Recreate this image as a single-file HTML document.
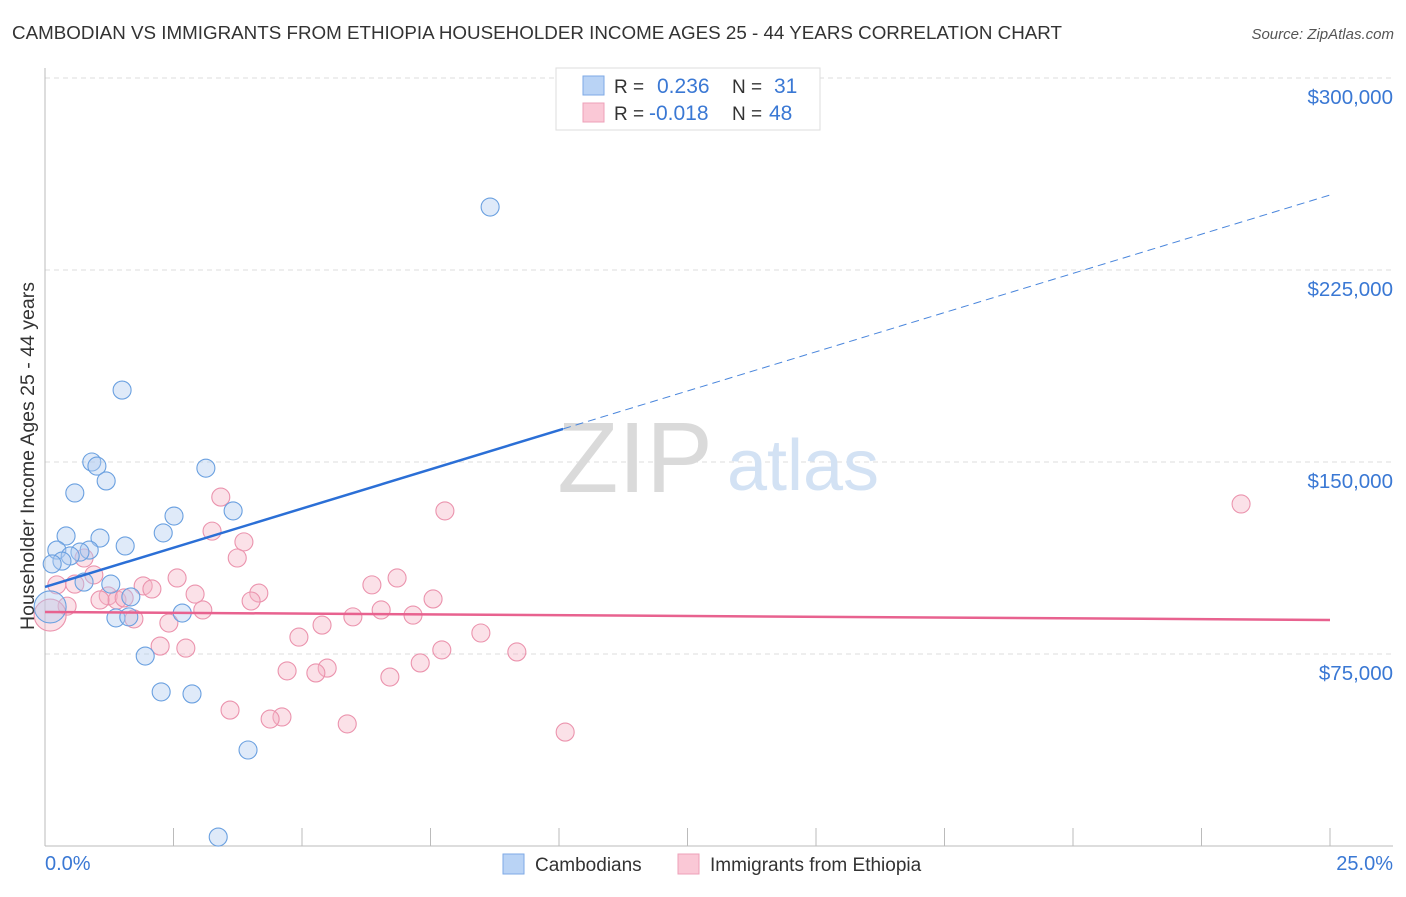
<!DOCTYPE html>
<html><head><meta charset="utf-8"><style>
body{margin:0;background:#fff;font-family:"Liberation Sans",sans-serif}
svg text{font-family:"Liberation Sans",sans-serif}
</style></head><body>
<svg id="chart" width="1406" height="892" viewBox="0 0 1406 892">
<text x="12" y="39" font-size="18.5" fill="#333" textLength="1050" lengthAdjust="spacingAndGlyphs">CAMBODIAN VS IMMIGRANTS FROM ETHIOPIA HOUSEHOLDER INCOME AGES 25 - 44 YEARS CORRELATION CHART</text>
<text x="1394" y="39" font-size="15" fill="#555" font-style="italic" text-anchor="end">Source: ZipAtlas.com</text>
<g id="grid"></g>
<g><text x="635" y="492" font-size="100" font-family="Liberation Serif" fill="#dadada" text-anchor="middle">ZIP</text><text x="803" y="490" font-size="72" fill="#d3e2f4" text-anchor="middle">atlas</text></g>
<g id="axes"></g>
<g id="marks"></g>
<g>
<rect x="556" y="68" width="264" height="62" fill="#fff" stroke="#ddd"/>
<rect x="583" y="76" width="21" height="19" fill="#b9d3f5" stroke="#7eaae6"/>
<rect x="583" y="103" width="21" height="19" fill="#fac8d6" stroke="#eea0b8"/>
<text x="614" y="93" font-size="19" fill="#333">R = </text><text x="657" y="93" font-size="21" fill="#3a78d4">0.236</text>
<text x="732" y="93" font-size="19" fill="#333">N = </text><text x="774" y="93" font-size="21" fill="#3a78d4">31</text>
<text x="614" y="120" font-size="19" fill="#333">R = </text><text x="649" y="120" font-size="21" fill="#3a78d4">-0.018</text>
<text x="732" y="120" font-size="19" fill="#333">N = </text><text x="769" y="120" font-size="21" fill="#3a78d4">48</text>
</g>
<g>
<rect x="503" y="854" width="21" height="20" fill="#b9d3f5" stroke="#7eaae6"/>
<text x="535" y="871" font-size="19" fill="#333">Cambodians</text>
<rect x="678" y="854" width="21" height="20" fill="#fac8d6" stroke="#eea0b8"/>
<text x="710" y="871" font-size="19" fill="#333">Immigrants from Ethiopia</text>
</g>
<text transform="translate(34,456) rotate(-90)" font-size="19.5" fill="#333" text-anchor="middle">Householder Income Ages 25 - 44 years</text>
</svg>
<script>
const yTicks=[75000,150000,225000,300000];
const yTickLabels=["$75,000","$150,000","$225,000","$300,000"];
const xTickLabels=["0.0%","25.0%"];
const blueX=[8.66,1.50,0.91,1.01,1.19,0.58,3.13,3.66,2.51,2.30,0.41,1.07,1.56,0.23,0.86,0.68,0.49,0.33,0.14,1.28,0.76,1.67,1.38,1.63,2.67,0.10,1.95,2.26,2.86,3.95,3.37];
const blueY=[249600,178100,150000,148400,142600,137900,147600,130900,128900,122300,121100,120300,117200,115600,115600,114800,113300,111300,110200,102300,103100,97300,89100,89500,91000,93400,74200,60200,59400,37500,3500];
const pinkX=[23.27,7.78,3.42,3.25,3.87,3.74,0.76,0.95,2.57,6.85,6.36,0.23,1.91,2.08,0.58,2.92,4.16,1.23,1.40,1.54,1.07,4.01,7.55,0.43,3.07,6.54,7.16,5.99,1.73,2.41,5.39,8.48,4.94,0.10,2.24,2.74,7.72,9.18,7.30,5.49,4.71,5.27,6.71,3.60,4.61,4.38,5.88,10.12];
const pinkY=[133600,130900,136300,123000,118800,112500,112500,105900,104700,104700,102000,102000,101600,100400,102300,98400,98800,97700,96100,96900,96100,95700,96500,93700,92200,92200,90200,89500,88700,87100,86300,83200,81600,90200,78100,77300,76600,75800,71500,69500,68400,67600,66000,53100,50400,49600,47700,44500];
const blueTrend=[101200,254300];
const pinkTrend=[91400,88300];
const blueSolidEnd=10.08;

const NS="http://www.w3.org/2000/svg";
const X=v=>45+v/25*1285;
const Y=v=>846-v*192/75000;
function mk(p,tag,at){const e=document.createElementNS(NS,tag);for(const k in at)e.setAttribute(k,at[k]);p.appendChild(e);return e;}
const grid=document.getElementById('grid'),axes=document.getElementById('axes'),marks=document.getElementById('marks');
yTicks.forEach((t,i)=>{
 const l=mk(grid,'line',{x1:45,x2:1393,y1:Y(t),y2:Y(t),stroke:'#ddd','stroke-dasharray':'5,4'});
 
 
 const tx=mk(axes,'text',{x:1393,y:Y(t)+26,'font-size':20.5,fill:'#3a78d4','text-anchor':'end'});
 tx.textContent=yTickLabels[i];
 
 
});
mk(axes,'line',{x1:45,x2:45,y1:68,y2:846,stroke:'#bbb'});
mk(axes,'line',{x1:45,x2:1393,y1:846,y2:846,stroke:'#bbb'});
for(let i=0;i<=10;i++){const t=mk(axes,'line',{x1:X(i*2.5),x2:X(i*2.5),y1:828,y2:846,stroke:'#bbb'});
 
 }
const xl0=mk(axes,'text',{x:45,y:870,'font-size':20,fill:'#3a78d4'});xl0.textContent=xTickLabels[0];


const xl1=mk(axes,'text',{x:1393,y:870,'font-size':20,fill:'#3a78d4','text-anchor':'end'});xl1.textContent=xTickLabels[1];


function pts(xs,ys,fill,stroke,name){xs.forEach((x,i)=>{const r=x<0.12?16:9;
 const c=mk(marks,'circle',{cx:X(x),cy:Y(ys[i]),r:r,fill:fill,'fill-opacity':0.4,stroke:stroke,'stroke-width':1.1});
 
 });}
pts(pinkX,pinkY,'#f5b3c6','#eb93ad','ethiopia-point');
pts(blueX,blueY,'#aecbf0','#6aa0e0','cambodian-point');
const bAt=x=>blueTrend[0]+(blueTrend[1]-blueTrend[0])*x/25;
const bl=mk(marks,'line',{x1:X(0),y1:Y(bAt(0)),x2:X(blueSolidEnd),y2:Y(bAt(blueSolidEnd)),stroke:'#2b6fd6','stroke-width':2.5});


const bd=mk(marks,'line',{x1:X(blueSolidEnd),y1:Y(bAt(blueSolidEnd)),x2:X(25),y2:Y(bAt(25)),stroke:'#4a86dc','stroke-width':1,'stroke-dasharray':'8,5'});


const pl=mk(marks,'line',{x1:X(0),y1:Y(pinkTrend[0]),x2:X(25),y2:Y(pinkTrend[1]),stroke:'#e8628f','stroke-width':2.5});


</script>
</body></html>
